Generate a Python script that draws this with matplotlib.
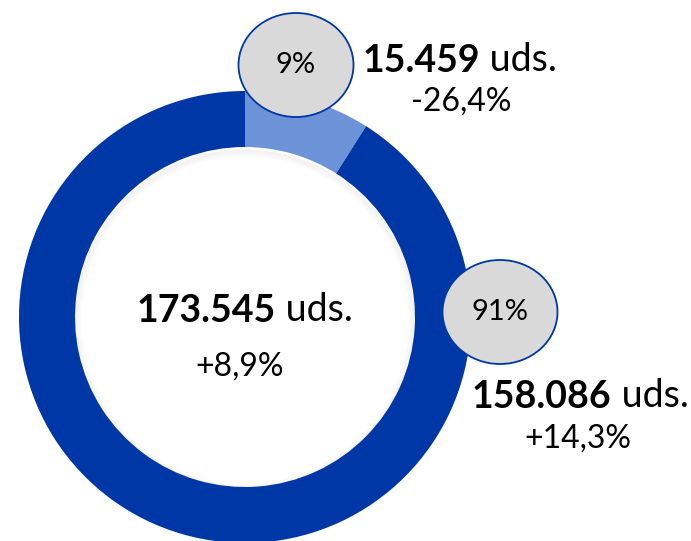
import matplotlib
matplotlib.use("Agg")
import matplotlib.pyplot as plt
from matplotlib.patches import Ellipse, Circle

# data
segments = ["Segmento A", "Segmento B"]
shares = [9, 91]
units = ["15.459", "158.086"]
changes = ["-26,4%", "+14,3%"]
total_units = "173.545"
total_change = "+8,9%"

DARK = "#0037A6"
LIGHT = "#6C93D8"
BUBBLE = "#D9D9D9"
FONT = "Lato"

W, H = 691, 541
fig = plt.figure(figsize=(W / 100, H / 100), dpi=100)
ax = fig.add_axes([0, 0, 1, 1])

cx, cy = 245, H - 317
r_out, r_in = 226, 170

ax.pie(shares, colors=[LIGHT, DARK], startangle=90, counterclock=False,
       center=(cx, cy), radius=r_out,
       wedgeprops=dict(width=r_out - r_in, linewidth=0))

# faint inner shadow along the hole, heavier at the top
for i in range(7):
    ax.add_patch(Circle((cx, cy - 3), r_in - i, fill=False, lw=1.2,
                        edgecolor="#777777", alpha=0.06 * (7 - i) / 7, zorder=0.5))

ax.set_xlim(0, W)
ax.set_ylim(0, H)
ax.set_aspect("equal")
ax.axis("off")


def bubble(x, y, label):
    ax.add_patch(Ellipse((x, H - y), 115, 104, facecolor=BUBBLE,
                         edgecolor=DARK, lw=1.3, zorder=3))
    ax.text(x, H - y, label, ha="center", va="center", fontsize=21,
            family=FONT, zorder=4)


def two_part(x, y, bold, rest, size=27):
    t = ax.text(x, H - y, bold, ha="left", va="baseline", fontsize=size,
                family=FONT, weight="bold", zorder=4)
    ax.annotate(" " + rest, xy=(1, 0), xycoords=t, xytext=(0, 0),
                textcoords="offset points", ha="left", va="bottom",
                fontsize=size, family=FONT, zorder=4)


def sub(x, y, label):
    ax.text(x, H - y, label, ha="center", va="center", fontsize=23,
            family=FONT, zorder=4)


bubble(296, 65, f"{shares[0]}%")
bubble(500, 312, f"{shares[1]}%")

two_part(363, 72, units[0], "uds.")
sub(461, 102, changes[0])

two_part(472, 408, units[1], "uds.")
sub(578, 439, changes[1])

two_part(137, 322, total_units, "uds.")
sub(240, 367, total_change)

fig.savefig("out.png", dpi=100)
